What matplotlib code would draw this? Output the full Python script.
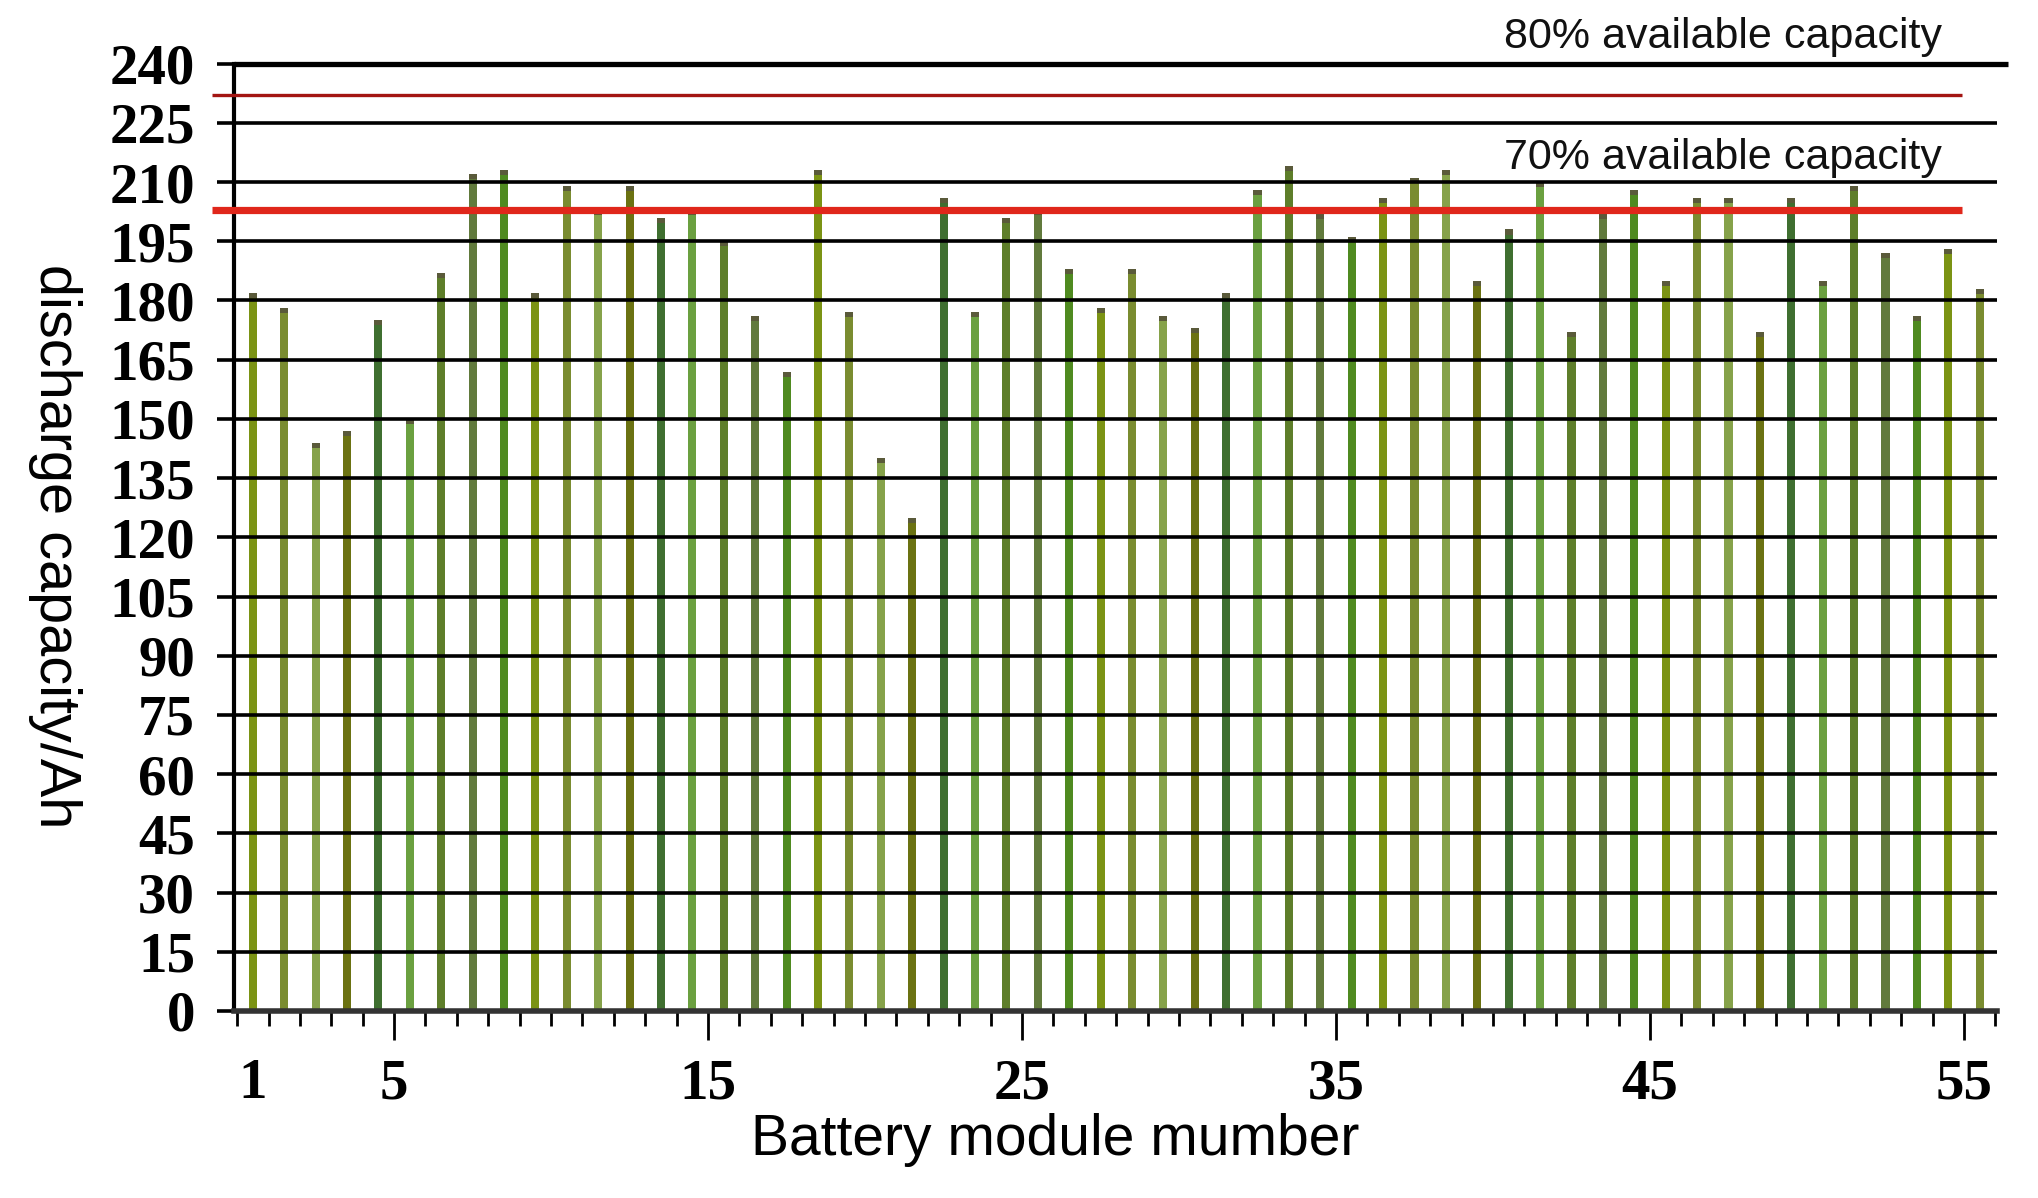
import matplotlib.pyplot as plt
import numpy as np

# discharge capacity of each battery module (Ah)
modules = np.arange(1, 57)
capacity = [182, 178, 144, 147, 175, 150, 187, 212, 213, 182,
            209, 203, 209, 201, 203, 195, 176, 162, 213, 177,
            140, 125, 206, 177, 201, 203, 188, 178, 188, 176,
            173, 182, 208, 214, 202, 196, 206, 211, 213, 185,
            198, 210, 172, 202, 208, 185, 206, 206, 172, 206,
            185, 209, 192, 176, 193, 183]

# available capacity levels (80% / 70% of rated)
levels = [232, 203]
level_labels = ['80% available capacity', '70% available capacity']
level_text_y = [244, 213.3]

y_ticks = list(range(0, 241, 15))
x_tick_pos = [1, 5.5, 15.5, 25.5, 35.5, 45.5, 55.5]
x_tick_labels = ['1', '5', '15', '25', '35', '45', '55']

palette = ['#7b9314', '#617a3c', '#6ba040', '#6b7212', '#7a8c30',
           '#4f8a20', '#5e7e2a', '#3f6f30', '#86a24a']

fig = plt.figure(figsize=(20.38, 11.98), dpi=100)
ax = fig.add_axes([0.1148, 0.1561, 0.8651, 0.7908])

colors = [palette[(i * 4) % len(palette)] for i in range(len(modules))]
ax.bar(modules, capacity, width=0.26, color=colors, zorder=1)
# darker tips on top of each bar
tip = 1.3
ax.bar(modules, [tip] * len(modules), bottom=np.array(capacity) - tip,
       width=0.26, color='#5a5a3a', zorder=1.1)

ax.set_xlim(0.4, 56.55)
ax.set_ylim(0, 240)

# grid lines in front of bars
ax.set_yticks(y_ticks)
ax.yaxis.grid(True, color='black', linewidth=2.6)
ax.set_axisbelow(False)
ax.hlines(y_ticks[-1], 0.4, 56.9, color='black', linewidth=3.8,
          clip_on=False, zorder=3)

# capacity limit lines
ax.hlines(levels[0], -0.3, 55.45, color='#a31512', linewidth=2.4,
          clip_on=False, zorder=3)
ax.hlines(levels[1], -0.3, 55.45, color='#e0271b', linewidth=5.2,
          clip_on=False, zorder=3)
for lab, ty in zip(level_labels, level_text_y):
    ax.text(54.8, ty, lab, ha='right', va='baseline', fontsize=31,
            family='Liberation Sans', color='#111111')

for side in ['top', 'right']:
    ax.spines[side].set_visible(False)
ax.spines['left'].set_linewidth(3)
ax.spines['left'].set_color('black')
ax.spines['bottom'].set_linewidth(4)
ax.spines['bottom'].set_color('#333333')
ax.spines['bottom'].set_zorder(3)

ax.tick_params(axis='y', length=12, width=2.6, direction='out', pad=16,
               labelsize=41)
ax.set_xticks(x_tick_pos)
ax.set_xticklabels(x_tick_labels)
ax.set_xticks(np.arange(0.5, 57, 1), minor=True)
ax.tick_params(axis='x', which='major', length=21, width=2, pad=13,
               labelsize=41)
ax.tick_params(axis='x', which='minor', length=11, width=2)
ax.xaxis.get_major_ticks()[0].tick1line.set_visible(False)
for lbl in ax.get_xticklabels() + ax.get_yticklabels():
    lbl.set_family('Liberation Serif')
    lbl.set_fontweight('bold')

ax.set_xlabel('Battery module mumber', fontsize=41, family='Liberation Sans')
ax.xaxis.set_label_coords(0.466, -0.108)
ax.set_ylabel('discharge capacity/Ah', fontsize=41.5, family='Liberation Sans',
              rotation=270, va='center', ha='center')
ax.yaxis.set_label_coords(-0.1015, 0.491)

fig.savefig('out.png', dpi=100)
